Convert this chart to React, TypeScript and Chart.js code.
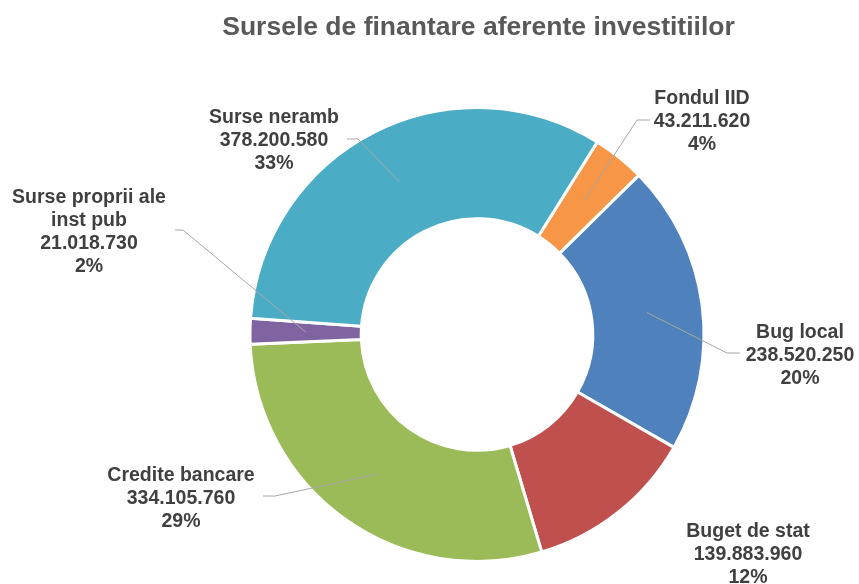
import React, { useEffect, useRef } from "react";
import { Chart, registerables } from "chart.js";

Chart.register(...registerables);

const TITLE = "Sursele de finantare aferente investitiilor";
const categories = [
  "Fondul IID",
  "Bug local",
  "Buget de stat",
  "Credite bancare",
  "Surse proprii ale inst pub",
  "Surse neramb",
];
const values = [43211620, 238520250, 139883960, 334105760, 21018730, 378200580];
const percentLabels = ["4%", "20%", "12%", "29%", "2%", "33%"];
const colors = ["#F79646", "#4F81BD", "#C0504D", "#9BBB59", "#8064A2", "#4BACC6"];

// label layout: centre x offset, first-line y offset (relative to the doughnut centre), wrap width
const labelDx = [225, 323, 271, -296, -388, -203];
const labelDy = [-236, -2, 197, 141, -137, -217];
const labelWrap = [400, 400, 400, 400, 160, 400];
// leader line: start offset from centre, horizontal stub length (null = no leader)
const leaderStart: ([number, number] | null)[] = [
  [173, -214.5],
  [263, 18.5],
  null,
  [-214, 161.5],
  [-302, -104.5],
  [-130, -195.5],
];
const leaderStub = [-13, -13, 0, 12, 8, 11];

const FONT = '"Liberation Sans", Arial, sans-serif';

function fmt(n: number): string {
  return String(n).replace(/\B(?=(\d{3})+(?!\d))/g, ".");
}

function wrap(ctx: CanvasRenderingContext2D, text: string, maxW: number): string[] {
  const words = text.split(" ");
  const lines: string[] = [];
  let cur = "";
  for (const w of words) {
    const t = cur ? cur + " " + w : w;
    if (ctx.measureText(t).width > maxW && cur) {
      lines.push(cur);
      cur = w;
    } else cur = t;
  }
  if (cur) lines.push(cur);
  return lines;
}

const labelPlugin = {
  id: "excelLabels",
  afterDatasetsDraw(chart: any) {
    const ctx: CanvasRenderingContext2D = chart.ctx;
    const meta = chart.getDatasetMeta(0);
    const arcs = meta.data;
    if (!arcs.length) return;
    const cx = arcs[0].x;
    const cy = arcs[0].y;
    ctx.save();
    // title
    ctx.fillStyle = "#595959";
    ctx.font = `bold 26.5px ${FONT}`;
    ctx.textAlign = "center";
    ctx.textBaseline = "middle";
    ctx.fillText(TITLE, cx + 1.5, 28);

    // leader lines
    ctx.strokeStyle = "#A6A6A6";
    ctx.lineWidth = 1;
    arcs.forEach((arc: any, i: number) => {
      const s = leaderStart[i];
      if (!s) return;
      const p = arc.getProps(["startAngle", "endAngle", "innerRadius", "outerRadius", "x", "y"], true);
      const mid = (p.startAngle + p.endAngle) / 2;
      const r = (p.innerRadius + p.outerRadius) / 2;
      const ex = p.x + Math.cos(mid) * r;
      const ey = p.y + Math.sin(mid) * r;
      const sx = cx + s[0];
      const sy = cy + s[1];
      ctx.beginPath();
      ctx.moveTo(sx, sy);
      ctx.lineTo(sx + leaderStub[i], sy);
      ctx.lineTo(ex, ey);
      ctx.stroke();
    });

    // labels
    ctx.fillStyle = "#404040";
    ctx.font = `bold 19.5px ${FONT}`;
    ctx.textAlign = "center";
    ctx.textBaseline = "middle";
    const lh = 23;
    categories.forEach((name, i) => {
      const lines = [...wrap(ctx, name, labelWrap[i]), fmt(values[i]), percentLabels[i]];
      const x = cx + labelDx[i];
      const y0 = cy + labelDy[i];
      lines.forEach((ln, k) => ctx.fillText(ln, x, y0 + k * lh));
    });
    ctx.restore();
  },
};

export default function App() {
  const ref = useRef<HTMLCanvasElement | null>(null);
  useEffect(() => {
    if (!ref.current) return;
    const chart = new Chart(ref.current, {
      type: "doughnut",
      data: {
        labels: categories,
        datasets: [
          {
            data: values,
            backgroundColor: colors,
            borderColor: "#FFFFFF",
            borderWidth: 3,
            hoverOffset: 0,
          },
        ],
      },
      options: {
        responsive: false,
        animation: false,
        devicePixelRatio: 1,
        rotation: 32,
        cutout: "51%",
        layout: { padding: { left: 248.5, right: 153.5, top: 106, bottom: 21 } },
        plugins: {
          legend: { display: false },
          tooltip: { enabled: false },
          title: { display: false },
        },
      } as any,
      plugins: [labelPlugin],
    });
    return () => chart.destroy();
  }, []);
  return (
    <div style={{ position: "absolute", left: 0, top: 0, width: 859, height: 584, background: "#fff" }}>
      <canvas ref={ref} width={859} height={584} style={{ display: "block" }} />
    </div>
  );
}
